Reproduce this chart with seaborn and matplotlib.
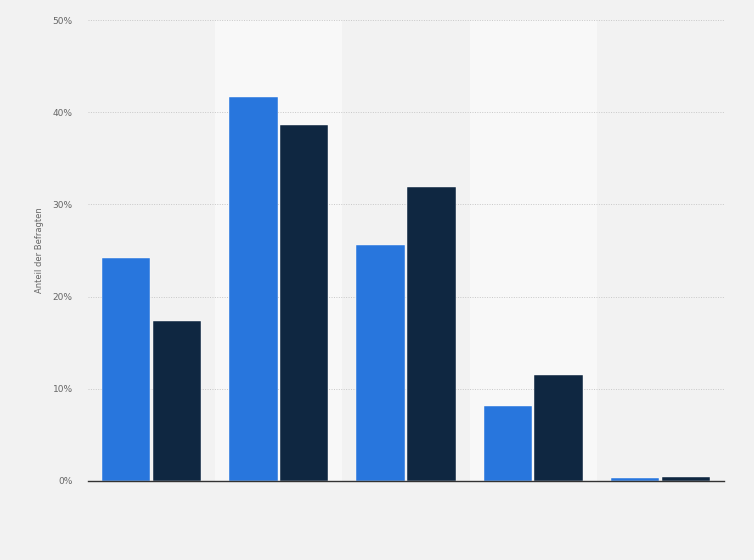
import pandas as pd
import numpy as np
import seaborn as sns
import matplotlib.pyplot as plt
from matplotlib.ticker import FuncFormatter

# values (percent of respondents)
categories = ["A", "B", "C", "D", "E"]
series_names = ["Serie 1", "Serie 2"]
series_1 = [24.2, 41.6, 25.6, 8.1, 0.3]
series_2 = [17.4, 38.6, 31.9, 11.5, 0.4]
y_ticks = [0, 10, 20, 30, 40, 50]

df = pd.DataFrame({
    "Kategorie": categories * 2,
    "Serie": [series_names[0]] * len(categories) + [series_names[1]] * len(categories),
    "Anteil": series_1 + series_2,
})

sns.set_theme(style="white")
plt.rcParams['font.family'] = ['DejaVu Sans']

bg = "#f2f2f2"
fig = plt.figure(figsize=(7.54, 5.6), dpi=100, facecolor=bg)
ax = fig.add_axes([88 / 754, 79 / 560, 636 / 754, 461 / 560])
ax.set_facecolor(bg)

# lighter bands behind every second group
for i in range(len(categories)):
    if i % 2 == 1:
        ax.axvspan(i - 0.5, i + 0.5, color="#f8f8f8", zorder=0, lw=0)

sns.barplot(data=df, x="Kategorie", y="Anteil", hue="Serie",
            palette=["#2876dd", "#0f2741"], saturation=1, width=0.8, gap=0.05,
            edgecolor="#ffffff", linewidth=0.3, legend=False, ax=ax, zorder=3)

ax.set_xlim(-0.5, len(categories) - 0.5)
ax.set_ylim(0, 50)
ax.set_yticks(y_ticks)
ax.yaxis.set_major_formatter(FuncFormatter(lambda v, p: f"{int(v)}%"))
ax.grid(axis="y", color="#c8c8c8", linestyle=(0, (1, 1.5)), linewidth=0.7, zorder=1)
ax.set_axisbelow(True)

ax.set_xticks(range(len(categories)))
ax.set_xticklabels([""] * len(categories))
ax.tick_params(axis="x", length=0)
ax.tick_params(axis="y", length=0, labelsize=6.5, labelcolor="#666666", pad=11)

for s in ["top", "right", "left"]:
    ax.spines[s].set_visible(False)
ax.spines["bottom"].set_color("#333333")
ax.spines["bottom"].set_linewidth(1)
ax.spines["bottom"].set_zorder(5)

ax.set_xlabel("")
ax.set_ylabel("Anteil der Befragten", fontsize=6, color="#666666", labelpad=6)

fig.savefig("out.png", dpi=100, facecolor=bg)
